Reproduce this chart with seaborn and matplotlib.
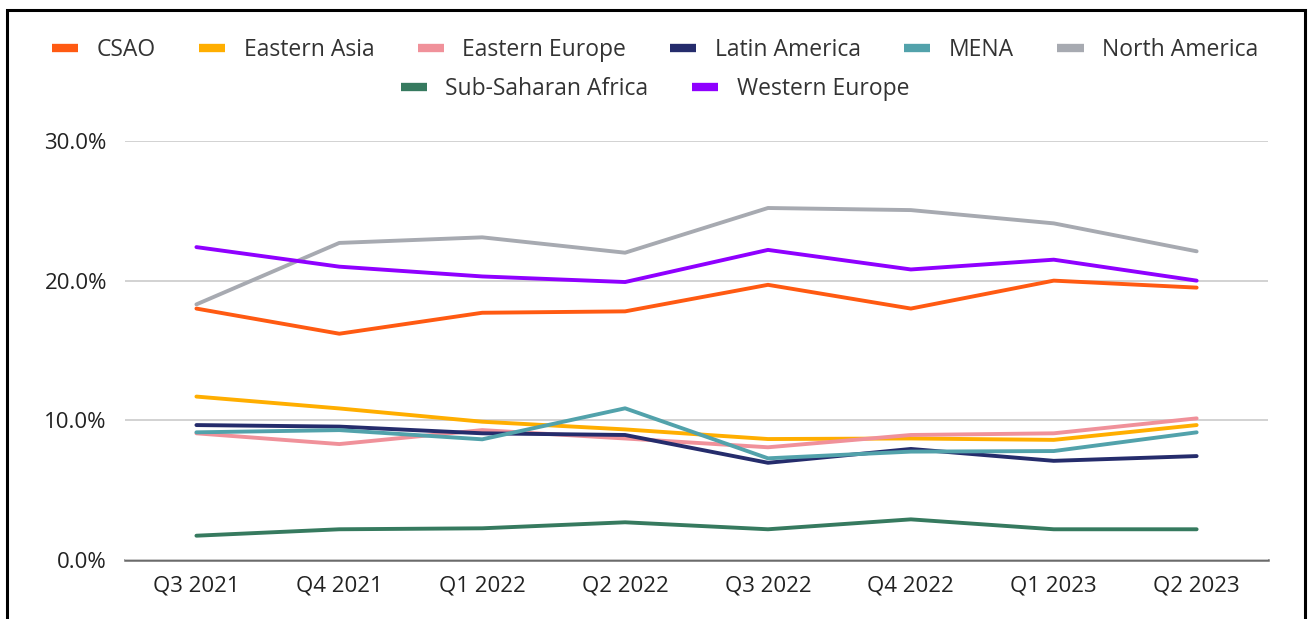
import matplotlib
matplotlib.use("Agg")
import matplotlib.pyplot as plt
from matplotlib.lines import Line2D
from matplotlib.patches import Rectangle
from matplotlib.ticker import FuncFormatter
import seaborn as sns
import pandas as pd

quarters = ["Q3 2021", "Q4 2021", "Q1 2022", "Q2 2022",
            "Q3 2022", "Q4 2022", "Q1 2023", "Q2 2023"]

csao = [18.0, 16.2, 17.7, 17.8, 19.7, 18.0, 20.0, 19.5]
eastern_asia = [11.7, 10.85, 9.9, 9.35, 8.66, 8.7, 8.6, 9.66]
eastern_europe = [9.07, 8.3, 9.3, 8.7, 8.07, 8.95, 9.07, 10.14]
latin_america = [9.66, 9.55, 9.07, 8.95, 6.96, 7.95, 7.1, 7.44]
mena = [9.14, 9.3, 8.64, 10.86, 7.28, 7.76, 7.8, 9.14]
north_america = [18.3, 22.7, 23.1, 22.0, 25.2, 25.05, 24.1, 22.1]
sub_saharan_africa = [1.74, 2.2, 2.27, 2.7, 2.2, 2.91, 2.2, 2.2]
western_europe = [22.4, 21.0, 20.3, 19.9, 22.2, 20.8, 21.5, 20.0]

regions = ["CSAO", "Eastern Asia", "Eastern Europe", "Latin America",
           "MENA", "North America", "Sub-Saharan Africa", "Western Europe"]
series = [csao, eastern_asia, eastern_europe, latin_america,
          mena, north_america, sub_saharan_africa, western_europe]
colors = ["#FF5A12", "#FFAE00", "#F0919A", "#252C6C",
          "#52A2AB", "#A7AAB1", "#367A5F", "#8F00FF"]

rows = []
for name, vals in zip(regions, series):
    for i, (q, v) in enumerate(zip(quarters, vals)):
        rows.append({"Region": name, "Quarter": q, "pos": i, "Share": v})
df = pd.DataFrame(rows)

sns.set_theme(style="white")
plt.rcParams["font.family"] = ["Open Sans", "DejaVu Sans"]

fig = plt.figure(figsize=(13.1, 6.19), dpi=100)
ax = fig.add_axes([0.0954, 0.0953, 0.8726, 0.677])

palette = dict(zip(regions, colors))
sns.lineplot(data=df, x="pos", y="Share", hue="Region", hue_order=regions,
             palette=palette, linewidth=2.8, legend=False, ax=ax,
             sort=False)

ax.set_xlim(-0.5, len(quarters) - 0.5)
ax.set_ylim(0, 30)
ax.set_xticks(range(len(quarters)))
ax.set_xticklabels(quarters)
ax.set_yticks([0, 10, 20, 30])
ax.yaxis.set_major_formatter(FuncFormatter(lambda v, _: f"{v:.1f}%"))
ax.set_xlabel("")
ax.set_ylabel("")
ax.tick_params(axis="both", length=0, labelsize=16, colors="#222222")
ax.tick_params(axis="x", pad=11)
ax.tick_params(axis="y", pad=13)

ax.grid(axis="y", color="#CFCFCF", linewidth=1.3)
ax.set_axisbelow(True)
for side in ["top", "right", "left"]:
    ax.spines[side].set_visible(False)
ax.spines["bottom"].set_color("#6B6B6B")
ax.spines["bottom"].set_linewidth(1.8)
ax.spines["bottom"].set_zorder(0.5)

def handles(names):
    return [Line2D([0], [0], color=palette[n], linewidth=6,
                   solid_capstyle="butt") for n in names]

legend_kw = dict(loc="center", frameon=False, fontsize=16.5,
                 handlelength=1.15, handletextpad=0.8, columnspacing=1.9,
                 labelcolor="#333333")
top_names = regions[:6]
bottom_names = regions[6:]
fig.legend(handles(top_names), top_names, ncol=6,
           bbox_to_anchor=(0.5, 1 - 50 / 619), **legend_kw)
fig.legend(handles(bottom_names), bottom_names, ncol=2,
           bbox_to_anchor=(0.5, 1 - 89 / 619), **legend_kw)

# Black outer border, open along the bottom edge
fig.patches.append(Rectangle((7 / 1310, -0.05), (1305 - 7) / 1310,
                             1.05 - 10 / 619, transform=fig.transFigure,
                             fill=False, edgecolor="black", linewidth=2.2))

fig.savefig("out.png", dpi=100)
